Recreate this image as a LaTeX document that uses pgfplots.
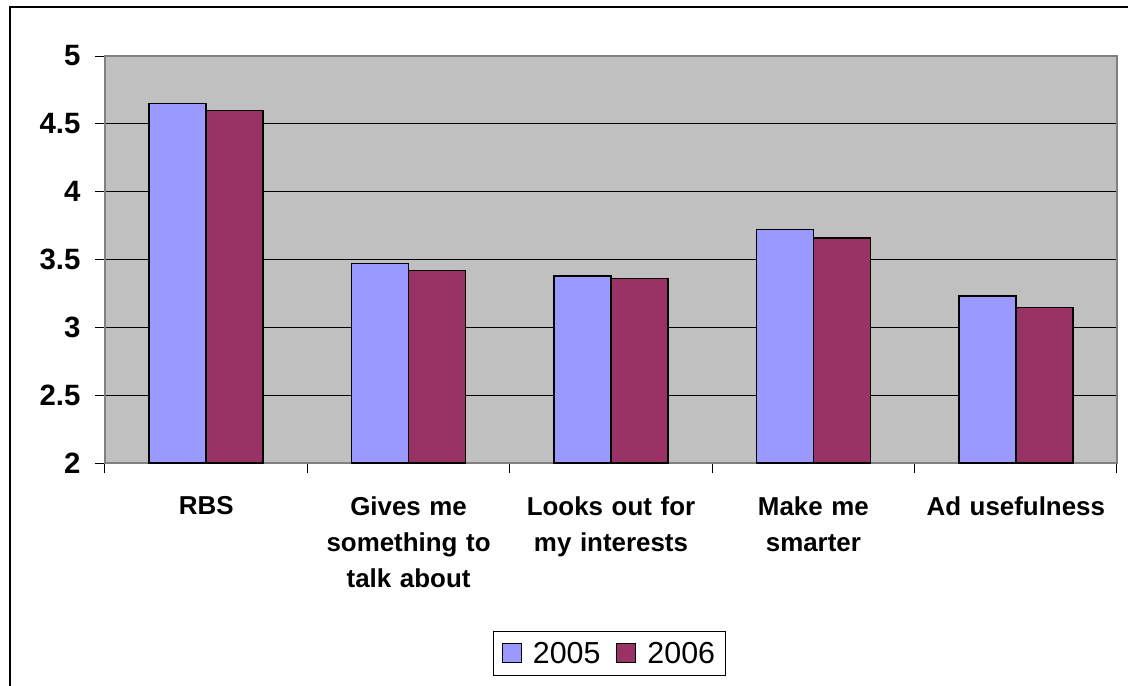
\documentclass[border=0pt]{standalone}
\usepackage{pgfplots}
\pgfplotsset{compat=1.18}
\usepackage{fontspec}
\setmainfont{Liberation Sans}

\definecolor{plotbg}{HTML}{C0C0C0}
\definecolor{bluebar}{HTML}{9999FF}
\definecolor{plumbar}{HTML}{993366}
\definecolor{axisgray}{HTML}{808080}

\begin{document}
\begin{tikzpicture}
\begin{axis}[
    name=ax,
    scale only axis,
    width=1012bp, height=407bp,
    xmin=-0.5, xmax=4.5,
    ymin=2, ymax=5,
    ybar=0pt,
    bar width=57bp,
    axis background/.style={fill=plotbg},
    axis line style={draw=axisgray, line width=1.5bp},
    ytick={2,2.5,...,5},
    ymajorgrids,
    major grid style={draw=black, line width=1bp},
    xtick={-0.5,0.5,1.5,2.5,3.5,4.5},
    x tick label as interval,
    xticklabels={RBS,
                 {Gives me\\something to\\talk about},
                 {Looks out for\\my interests},
                 {Make me\\smarter},
                 Ad usefulness},
    tick align=outside,
    major tick length=10bp,
    tick style={draw=black, line width=1bp},
    xtick pos=bottom, ytick pos=left,
    /pgf/number format/assume math mode=true,
    yticklabel style={font=\fontsize{29.5}{33}\selectfont\bfseries, xshift=-11bp},
    xticklabel style={font=\fontsize{26}{36}\selectfont\bfseries,
                      align=center, text width=200bp, anchor=north, yshift=-20bp},
    legend style={at={(0.4985,-0.468)}, anchor=center, draw=black, line width=1bp,
                  font=\fontsize{30.5}{34}\selectfont, legend columns=2,
                  inner xsep=8bp, inner ysep=9bp,
                  /tikz/every odd column/.append style={column sep=9bp},
                  /tikz/every even column/.append style={column sep=14bp}},
    legend image code/.code={
        \draw[#1, line width=1bp] (0bp,-9.5bp) rectangle (19bp,9.5bp);
    },
]
\addplot[fill=bluebar, draw=black, line width=1.5bp]
    coordinates {(0,4.65) (1,3.47) (2,3.38) (3,3.72) (4,3.23)};
\addplot[fill=plumbar, draw=black, line width=1.5bp]
    coordinates {(0,4.60) (1,3.42) (2,3.36) (3,3.66) (4,3.145)};
\legend{2005,2006}
\end{axis}
\coordinate (O) at (ax.south west);
\pgfresetboundingbox
\useasboundingbox ([xshift=-105bp,yshift=-223bp]O) rectangle ([xshift=1023bp,yshift=463bp]O);
% outer chart frame
\draw[line width=2bp] ([xshift=-95bp,yshift=-223bp]O) -- ([xshift=-95bp,yshift=456bp]O) -- ([xshift=1023bp,yshift=456bp]O);
\end{tikzpicture}
\end{document}
